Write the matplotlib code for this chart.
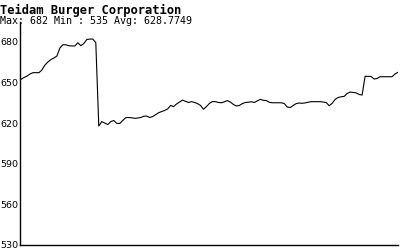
import numpy as np
import matplotlib.pyplot as plt

title = "Teidam Burger Corporation"
subtitle = "Max: 682 Min : 535 Avg: 628.7749"

# closing prices (one per ~3 px)
prices = [
    652.3, 653.6, 654.7, 656.2, 657.2, 657.2, 657.2, 659.2, 662.8, 665.1,
    666.9, 668.0, 669.5, 675.4, 677.8, 677.8, 677.1, 676.9, 676.9, 679.3,
    677.1, 678.7, 681.7, 682.0, 682.0, 679.4, 617.8, 621.1, 620.0, 618.9,
    621.1, 621.9, 619.8, 619.7, 621.9, 624.0, 624.1, 623.9, 623.5, 623.7,
    624.1, 625.0, 625.2, 624.1, 624.8, 626.2, 627.6, 628.5, 629.3, 630.4,
    633.0, 632.2, 634.1, 635.5, 637.0, 636.0, 635.2, 635.8, 635.2, 634.4,
    633.0, 630.2, 632.2, 634.6, 635.9, 635.8, 635.2, 635.0, 635.7, 636.6,
    635.5, 633.7, 632.6, 633.0, 634.4, 635.2, 635.4, 635.7, 635.2, 636.4,
    637.5, 636.8, 636.6, 635.3, 635.0, 635.0, 635.0, 635.0, 634.4, 631.8,
    631.5, 633.0, 634.4, 634.8, 634.6, 634.9, 635.4, 635.8, 635.8, 635.8,
    635.8, 635.5, 635.2, 632.8, 634.6, 637.5, 638.9, 639.4, 639.7, 641.8,
    642.9, 642.6, 642.3, 641.1, 640.7, 654.5, 654.5, 654.4, 652.5, 652.9,
    654.2, 654.2, 654.2, 654.2, 654.2, 656.2, 657.5,
]
yticks = [530, 560, 590, 620, 650, 680]

fig = plt.figure(figsize=(4, 2.5), dpi=100)
ax = fig.add_axes([0.05, 0.02, 0.945, 0.892])

x = np.arange(len(prices))
ax.plot(x, prices, color="black", linewidth=0.8)

ax.set_xlim(-0.33, len(prices) - 1)
ax.set_ylim(530, 694.6)
ax.set_xticks([])
ax.set_yticks(yticks)
ax.set_yticklabels([str(t) for t in yticks], fontsize=6.8)
ax.tick_params(axis="y", length=0, pad=1)

for side in ["top", "right"]:
    ax.spines[side].set_visible(False)
for side in ["left", "bottom"]:
    ax.spines[side].set_linewidth(1.0)
    ax.spines[side].set_color("black")

fig.text(0.0, 0.985, title, fontsize=8.7, fontweight="bold",
         family="DejaVu Sans Mono", va="top", ha="left")
fig.text(0.0, 0.935, subtitle, fontsize=7.2,
         family="DejaVu Sans Mono", va="top", ha="left")

fig.savefig("out.png", dpi=100)
